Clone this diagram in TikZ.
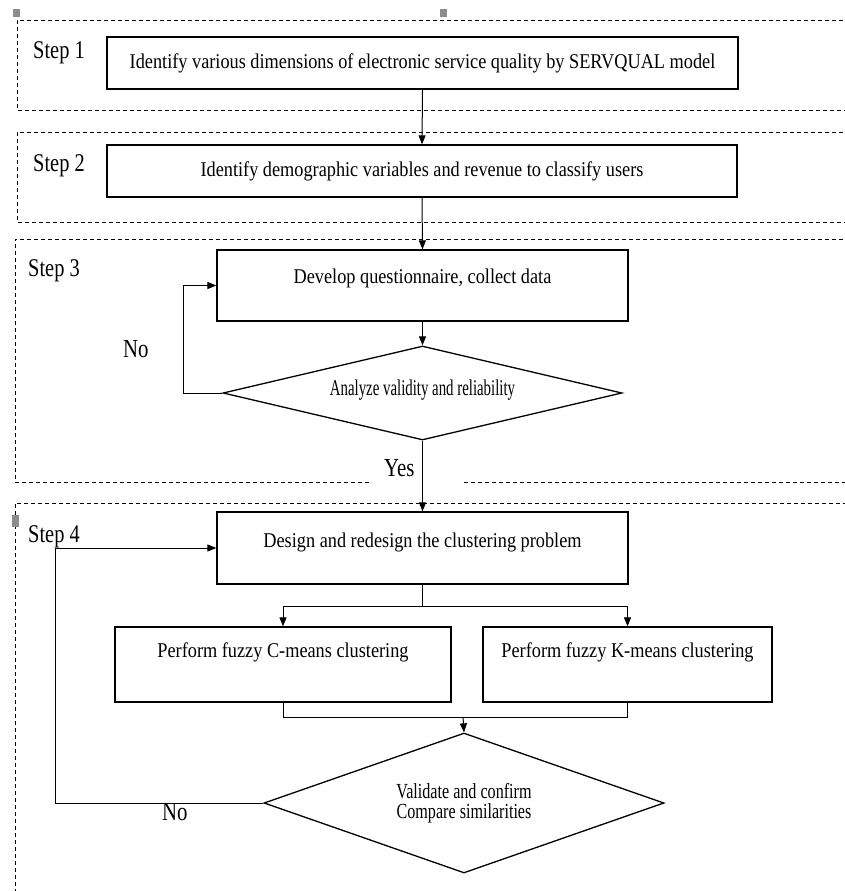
\documentclass[tikz,border=0pt]{standalone}
\usepackage{fontspec}
\setmainfont{Liberation Serif}
\newfontfamily\fBox{Liberation Serif}[FakeStretch=0.87]
\newfontfamily\fDa{Liberation Serif}[FakeStretch=0.66]
\newfontfamily\fDb{Liberation Serif}[FakeStretch=0.75]
\newfontfamily\fLab{Liberation Serif}[FakeStretch=0.80]
\usetikzlibrary{shapes.geometric,arrows.meta}
\tikzset{
  stepbox/.style={draw, line width=1.3pt, inner sep=0pt, font=\fBox\fontsize{21}{24}\selectfont, text height=14pt, text depth=4pt},
  decide/.style={draw, diamond, line width=1.3pt, inner sep=0pt},
  region/.style={draw, line width=0.9pt, dash pattern=on 4pt off 3pt},
  conn/.style={draw, line width=1pt},
  arr/.style={conn, -{Triangle[length=9pt,width=7pt]}},
  steplabel/.style={anchor=base west, inner sep=0pt, font=\fLab\fontsize{25.5}{28}\selectfont},
  answer/.style={anchor=base west, inner sep=0pt, font=\fLab\fontsize{26}{28}\selectfont},
  handle/.style={fill=black!45, draw=none}
}
\begin{document}
\begin{tikzpicture}[x=1pt,y=-1pt]
\useasboundingbox (0,0) rectangle (845,891);
\clip (0,0) rectangle (845,891);
\fill[white] (0,0) rectangle (845,891);

% dashed step regions
\draw[region] (850,20) -- (17,20) -- (17,110) -- (850,110);
\draw[region] (850,132) -- (17,132) -- (17,222) -- (850,222);
\draw[region] (369,482) -- (15,482) -- (15,239) -- (850,239);
\draw[region] (464,482) -- (850,482);
\draw[region] (15,900) -- (15,503) -- (850,503);

% selection handles
\fill[handle] (13,9) rectangle (20,17);
\fill[handle] (440,9) rectangle (447,17);
\fill[handle] (12,515) rectangle (19,527);

% step labels
\node[steplabel] (s1) at (33,59) {Step 1};
\node[steplabel] (s2) at (33,171) {Step 2};
\node[steplabel] (s3) at (28,276) {Step 3};
\node[steplabel] (s4) at (28,542) {Step 4};

% boxes
\node[stepbox, minimum width=631pt, minimum height=52pt] (b1) at (422.5,63)
  {Identify various dimensions of electronic service quality by SERVQUAL model};
\node[stepbox, minimum width=630pt, minimum height=52pt] (b2) at (422,171)
  {Identify demographic variables and revenue to classify users};
\node[stepbox, minimum width=411pt, minimum height=71pt, text depth=19pt] (b3) at (422.5,285.5)
  {Develop questionnaire, collect data};
\node[decide, aspect=4.245, minimum width=399pt, minimum height=94pt,
      font=\fDa\fontsize{22.5}{24}\selectfont, text height=15pt, text depth=11pt] (d1) at (422.5,393)
  {Analyze validity and reliability};
\node[stepbox, minimum width=411pt, minimum height=72pt, text depth=16pt] (b4) at (422.5,548)
  {Design and redesign the clustering problem};
\node[stepbox, minimum width=336pt, minimum height=75pt, text depth=29pt] (b5) at (283,664.5)
  {Perform fuzzy C-means clustering};
\node[stepbox, minimum width=289pt, minimum height=75pt, text depth=29pt] (b6) at (627.5,664.5)
  {Perform fuzzy K-means clustering};
\node[decide, aspect=2.857, minimum width=400pt, minimum height=140pt, align=center,
      font=\fDb\fontsize{21.5}{19.5}\selectfont] (d2) at (464,803)
  {Validate and confirm\\Compare similarities};

% connectors
\draw[arr] (b1.south) -- (b2.north);
\draw[arr] (b2.south) -- (b3.north);
\draw[arr] (b3.south) -- (d1.north);
\draw[arr] (d1.south) -- (b4.north);
\coordinate (l1) at (183,393);
\draw[arr] (d1.west) -- (l1) |- (b3.west);

\coordinate (sp) at (422.5,606);
\draw[conn] (b4.south) -- (sp);
\draw[arr] (sp) -| (b5.north);
\draw[arr] (sp) -| (b6.north);

\draw[conn] (b5.south) -- ++(0,15) -| (b6.south);
\coordinate (mg) at (463,717);
\draw[arr] (mg) -- (d2.north);

\coordinate (l2) at (55,803);
\draw[arr] (d2.west) -- (l2) |- (b4.west);

% answer labels
\node[answer] (no1) at (123,357) {No};
\node[answer] (yes) at (384,476) {Yes};
\node[answer] (no2) at (162,820) {No};
\end{tikzpicture}
\end{document}
